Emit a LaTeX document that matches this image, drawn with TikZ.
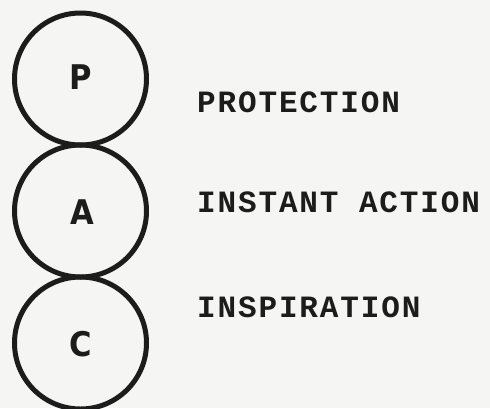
\documentclass[tikz,border=0pt]{standalone}
\usepackage{fontspec}
\setmainfont{Liberation Serif}
\newfontfamily\typefont[LetterSpace=6]{Liberation Mono Bold}
\newfontfamily\letterfont{DejaVu Sans Condensed Bold}
\definecolor{paper}{RGB}{245,245,243}
\definecolor{ink}{RGB}{28,28,28}
\begin{document}
\begin{tikzpicture}[x=1pt,y=-1pt,
  ring/.style={draw=ink,line width=5pt,circle,minimum size=132pt,inner sep=0pt},
  letter/.style={anchor=base,inner sep=0pt,text=ink,font=\letterfont\fontsize{34}{34}\selectfont},
  label/.style={anchor=base west,inner sep=0pt,text=ink,font=\typefont\fontsize{31}{31}\selectfont}]
\fill[paper] (0,0) rectangle (490,408);
\useasboundingbox (0,0) rectangle (490,408);
\node[ring] (cp) at (80.5,79) {};
\node[ring] (ca) at (80.5,211) {};
\node[ring] (cc) at (80.5,343) {};
\node[letter] (lp) at (81,89) {P};
\node[letter] (la) at (82,224) {A};
\node[letter] (lc) at (80.5,356) {C};
\node[label] (tp) at (197,112) {PROTECTION};
\node[label] (ta) at (197,212) {INSTANT ACTION};
\node[label] (tc) at (197,317) {INSPIRATION};
\end{tikzpicture}
\end{document}
